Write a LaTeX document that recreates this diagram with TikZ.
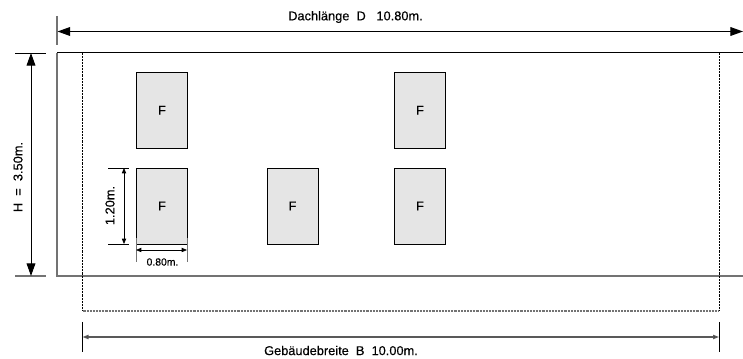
\documentclass[tikz,border=0pt]{standalone}
\usepackage{fontspec}
\setmainfont[FakeBold=0.3]{Liberation Sans}
\newfontfamily\lblfont[FakeBold=0.3]{Liberation Sans}
\usetikzlibrary{arrows.meta}
\definecolor{winfill}{gray}{0.90}
\definecolor{wallgray}{gray}{0.45}
\definecolor{dimgray}{gray}{0.35}
\tikzset{
  x=0.75pt,y=-0.75pt,
  window/.style={draw=black,line width=0.6pt,fill=winfill,minimum width=38.25pt,minimum height=57pt,inner sep=0pt,font=\lblfont\fontsize{9.6}{11}\selectfont},
  bigdim/.style={line width=0.75pt,{Triangle[length=9.5pt,width=6.6pt]}-{Triangle[length=9.5pt,width=6.6pt]}},
  smalldim/.style={line width=0.6pt,{Triangle[length=4pt,width=3.2pt]}-{Triangle[length=4pt,width=3.2pt]}},
  tick/.style={line width=0.5pt,draw=black},
  gtick/.style={line width=0.9pt,draw=wallgray},
  label/.style={inner sep=0pt,font=\lblfont\fontsize{9.6}{11}\selectfont},
  tiny/.style={inner sep=0pt,font=\lblfont\fontsize{7.8}{9}\selectfont},
  outline/.style={line width=0.7pt,dash pattern=on 0.7pt off 0.4pt},
}
\begin{document}
\begin{tikzpicture}
\useasboundingbox (0,0) rectangle (743,359);
% reference points
\coordinate (tl) at (57,53); \coordinate (tr) at (743,53);
\coordinate (bl) at (57,276); \coordinate (br) at (743,276);
\coordinate (dtl) at (82.5,53); \coordinate (dtr) at (719,53);
\coordinate (dbl) at (82.5,311); \coordinate (dbr) at (719,311);
% roof
\draw[gtick] (57,16) -- (57,45.5);
\draw[gtick] (tl) -- (bl) -- (br);
\draw[line width=0.75pt] (tl) -- (tr);
% building outline (dotted)
\draw[outline] (dtl) -- (dbl);
\draw[outline] (dtr) -- (dbr);
\draw[outline,line width=1pt,draw=wallgray] (dbl) -- (dbr);
% windows
\node[window] (f1) at (162,110.25) {F};
\node[window] (f2) at (162,206) {F};
\node[window] (f3) at (292.5,206) {F};
\node[window] (f4) at (420,110.25) {F};
\node[window] (f5) at (420,206) {F};
% Dachlaenge
\coordinate (da) at (57.5,31.5); \coordinate (db) at (743,31.5);
\draw[bigdim] (da) -- (db);
\node[label] (dl) at (355.5,17) {Dachlänge\ \ D\ \ \ 10.80m.};
% H
\coordinate (ha) at (31,53); \coordinate (hb) at (31,276);
\draw[tick,line width=0.7pt] (15,53) -- (46,53);
\draw[gtick] (15,276) -- (46,276);
\draw[bigdim] (ha) -- (hb);
\node[label,rotate=90] (hl) at (18,177) {H\ \ =\ \ 3.50m.};
% 1.20 dim
\coordinate (wa) at (124,168); \coordinate (wb) at (124,244);
\draw[tick] (108,168) -- (129,168);
\draw[tick] (108,244) -- (129,244);
\draw[smalldim] (wa) -- (wb);
\node[label,rotate=90] (wl) at (110,205.5) {1.20m.};
% 0.80 dim
\coordinate (ba) at (136,250); \coordinate (bb) at (187,250);
\draw[tick,draw=wallgray,line width=0.6pt] (136,238) -- (136,262.5);
\draw[tick,draw=wallgray,line width=0.6pt] (187,238) -- (187,262.5);
\draw[smalldim] (ba) -- (bb);
\node[tiny] (bl2) at (162.5,262) {0.80m.};
% Gebaeudebreite
\coordinate (ga) at (82.5,337); \coordinate (gb) at (719,337);
\draw[tick,line width=0.7pt] (82.5,322) -- (82.5,352.5);
\draw[tick,line width=0.7pt] (719,322) -- (719,352.5);
\draw[line width=0.9pt,draw=dimgray,{Triangle[length=4.5pt,width=3.2pt,fill=black]}-{Triangle[length=4.5pt,width=3.2pt,fill=black]}] (ga) -- (gb);
\node[label] (gl) at (341,350.5) {Gebäudebreite\ \ B\ \ 10.00m.};
\end{tikzpicture}
\end{document}
